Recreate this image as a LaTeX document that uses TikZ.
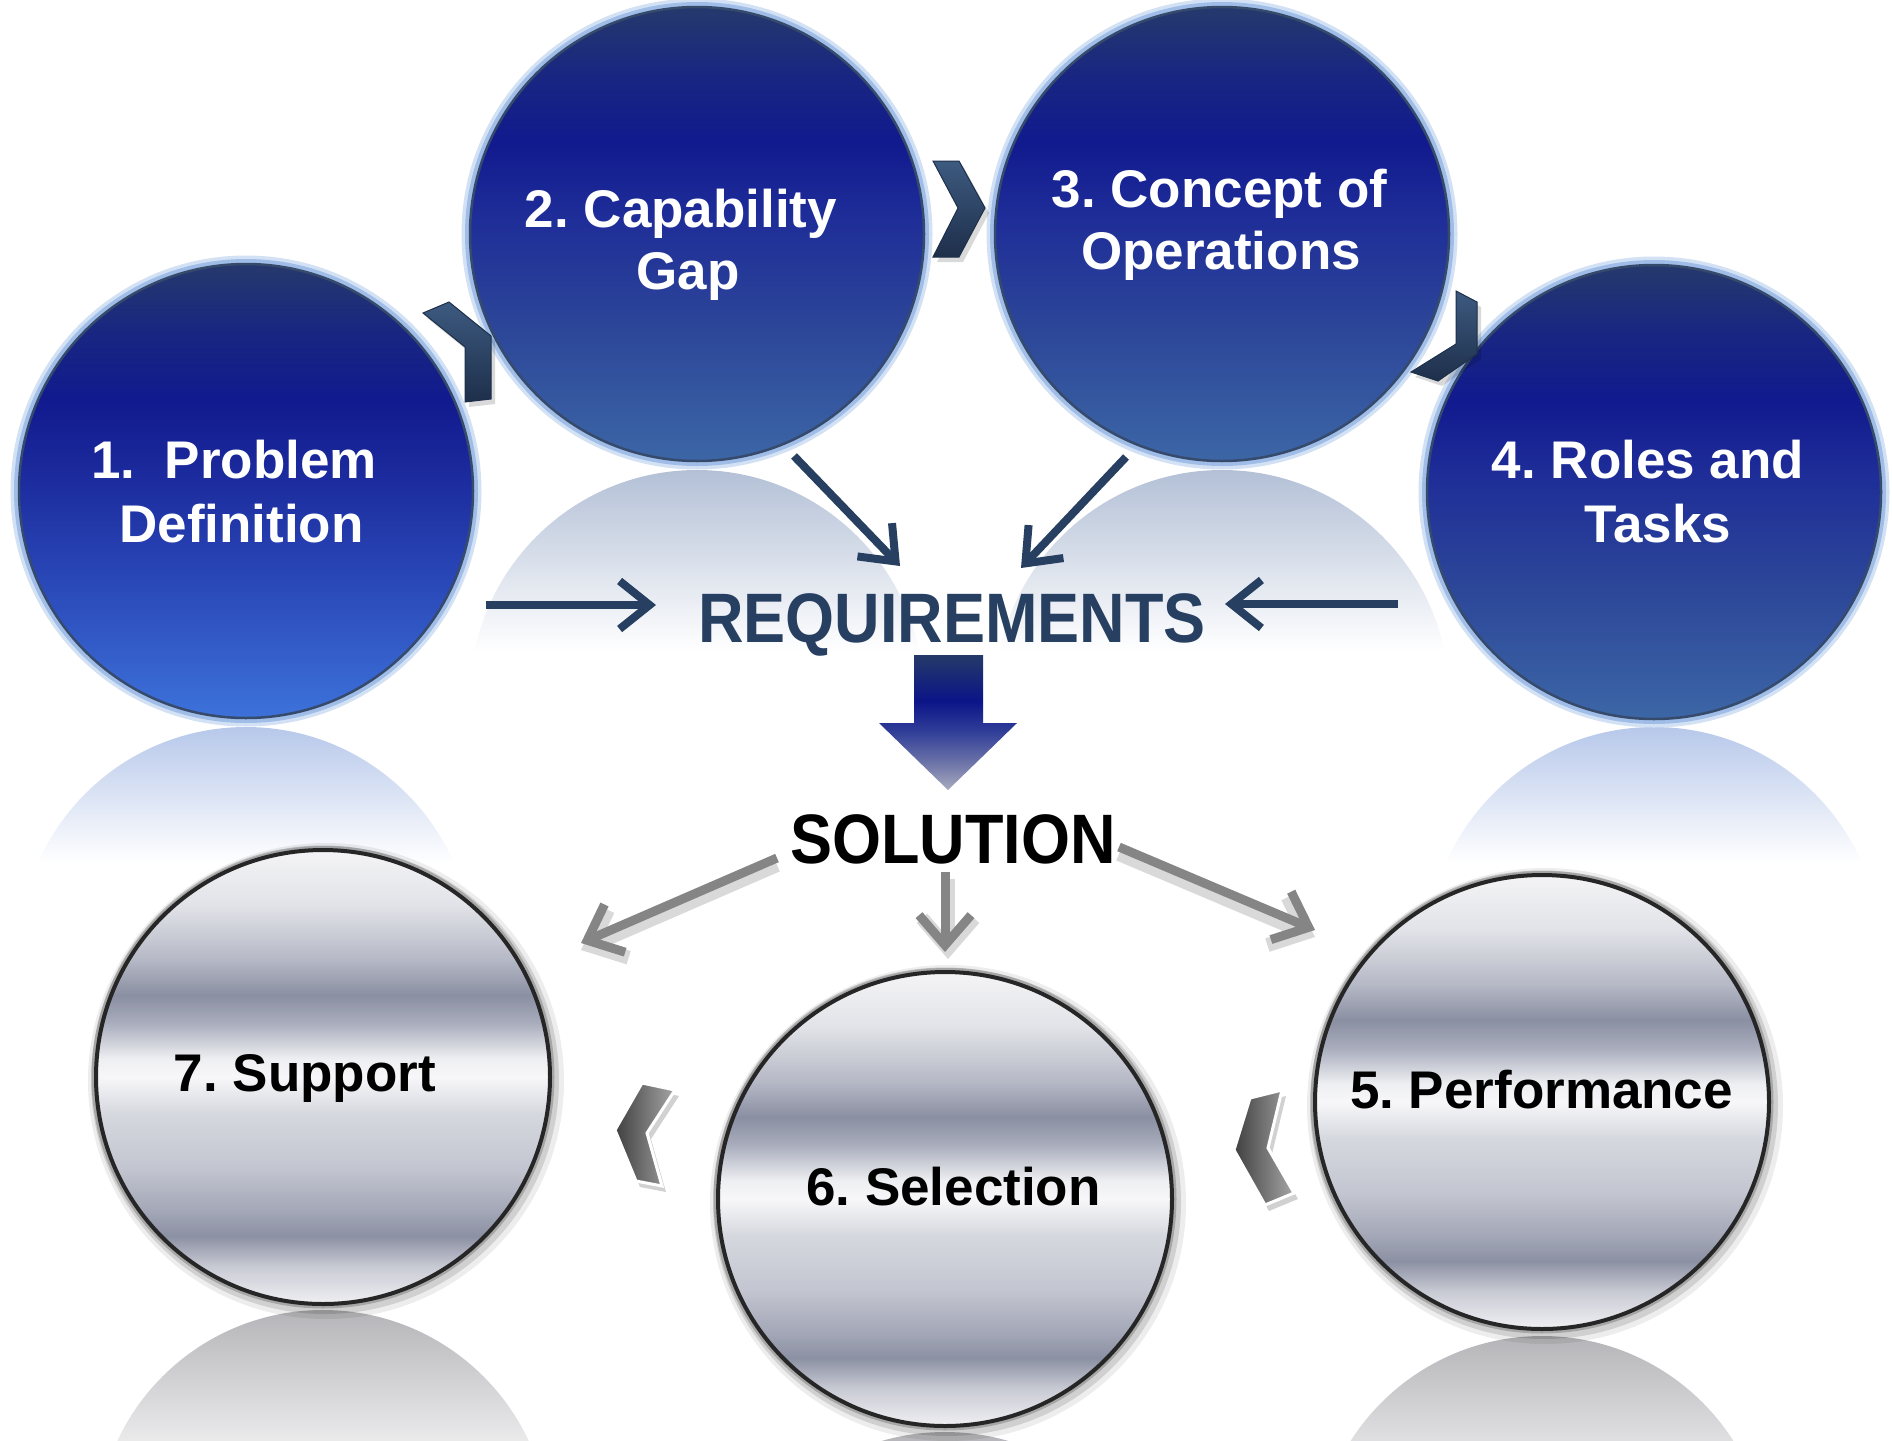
\documentclass[tikz,border=0pt]{standalone}
\usepackage{fontspec}
\setmainfont{Liberation Sans}
\newfontfamily\condfont[FakeStretch=0.9]{Liberation Sans}
\usetikzlibrary{arrows.meta,calc}
\frenchspacing
\definecolor{navytxt}{HTML}{273F61}
\definecolor{chevnavy}{HTML}{2D4465}
\definecolor{chevnavyL}{HTML}{3D5A80}
\definecolor{chevnavyD}{HTML}{1E2F4A}
\definecolor{bA0}{HTML}{26396C}
\definecolor{bA1}{HTML}{1A2780}
\definecolor{bA2}{HTML}{111A8E}
\definecolor{bA3}{HTML}{1B2A9C}
\definecolor{bA4}{HTML}{2A48B8}
\definecolor{bA5}{HTML}{3D72DA}
\definecolor{bB3}{HTML}{1E2D98}
\definecolor{bB4}{HTML}{2C4598}
\definecolor{bB5}{HTML}{3C66A6}
\definecolor{g0}{HTML}{F4F4F6}
\definecolor{g1}{HTML}{E2E3E8}
\definecolor{g2}{HTML}{B6B9C6}
\definecolor{g3}{HTML}{8A8FA2}
\definecolor{g4}{HTML}{A8ACBC}
\definecolor{g5}{HTML}{EEEFF2}
\definecolor{g6}{HTML}{F7F7F9}
\definecolor{g7}{HTML}{D6D8DF}
\definecolor{g8}{HTML}{C3C6D0}
\definecolor{g9}{HTML}{A1A5B5}
\definecolor{g10}{HTML}{8B90A3}
\definecolor{g11}{HTML}{CACCD5}
\definecolor{g12}{HTML}{F0F0F3}
\definecolor{rb}{HTML}{B7C8EA}
\definecolor{rs}{HTML}{B3C0D6}
\definecolor{rg}{HTML}{B5B5B9}
\definecolor{ba0}{HTML}{243A68}
\definecolor{ba1}{HTML}{0C1488}
\definecolor{ba2}{HTML}{2F3D98}
\definecolor{ba3}{HTML}{6D74A8}
\definecolor{ba4}{HTML}{A8ABBF}
\definecolor{glowA}{HTML}{D3E1F5}
\definecolor{glowB}{HTML}{A0BDE8}
\definecolor{rimtop}{HTML}{364A6C}
\definecolor{grayarrow}{HTML}{858585}
\pgfdeclareverticalshading{blueA}{100bp}{color(0bp)=(bA5); color(25bp)=(bA5); color(40bp)=(bA4); color(52bp)=(bA3); color(60bp)=(bA2); color(68bp)=(bA1); color(75bp)=(bA0); color(100bp)=(bA0)}
\pgfdeclareverticalshading{blueB}{100bp}{color(0bp)=(bB5); color(25bp)=(bB5); color(40bp)=(bB4); color(52bp)=(bB3); color(60bp)=(bA2); color(68bp)=(bA1); color(75bp)=(bA0); color(100bp)=(bA0)}
\pgfdeclareverticalshading{metal}{100bp}{color(0bp)=(g12); color(25bp)=(g12); color(29bp)=(g11); color(32.5bp)=(g10); color(35bp)=(g9); color(40bp)=(g8); color(46bp)=(g7); color(50bp)=(g6); color(52bp)=(g5); color(56bp)=(g4); color(59bp)=(g3); color(63bp)=(g2); color(69bp)=(g1); color(75bp)=(g0); color(100bp)=(g0)}
\pgfdeclareverticalshading{reflBlue}{100bp}{color(0bp)=(white); color(60bp)=(white); color(75bp)=(rb); color(100bp)=(rb)}
\pgfdeclareverticalshading{reflSlate}{100bp}{color(0bp)=(white); color(55bp)=(white); color(75bp)=(rs); color(100bp)=(rs)}
\pgfdeclareverticalshading{reflGray}{100bp}{color(0bp)=(white); color(55bp)=(white); color(75bp)=(rg); color(100bp)=(rg)}
\pgfdeclareverticalshading{blockarr}{100bp}{color(0bp)=(ba4); color(25bp)=(ba4); color(35bp)=(ba3); color(47bp)=(ba2); color(58bp)=(ba1); color(75bp)=(ba0); color(100bp)=(ba0)}
\tikzset{
  topcirc/.style={circle, minimum size=454pt, inner sep=0pt, shade, draw=rimtop, line width=2.5pt,
    preaction={draw=glowA, line width=17pt},
    preaction={draw=glowB, line width=10pt}},
  botcirc/.style={circle, minimum size=454pt, inner sep=0pt, shade, shading=metal, draw=black!85, line width=4pt,
    preaction={draw=black, draw opacity=0.07, line width=22pt, transform canvas={shift={(3pt,-4pt)}}},
    preaction={draw=black, draw opacity=0.12, line width=14pt, transform canvas={shift={(2pt,-3pt)}}},
    preaction={draw=black, draw opacity=0.2, line width=9pt}},
  toplab/.style={anchor=base, inner sep=0pt, text=white, font=\fontsize{53}{62}\selectfont\bfseries},
  botlab/.style={anchor=base, inner sep=0pt, text=black, font=\fontsize{53}{62}\selectfont\bfseries},
  bigword/.style={anchor=base, inner sep=0pt, font=\condfont\fontsize{70}{80}\selectfont\bfseries},
  navyarr/.style={draw=navytxt, line width=8pt, -{Straight Barb[length=30pt,width=48pt]}},
  grayarr/.style={draw=grayarrow, line width=9pt, -{Straight Barb[length=30pt,width=52pt]}},
  grayshadow/.style={draw=black, draw opacity=0.15, line width=14pt, -{Straight Barb[length=30pt,width=52pt]}},
  topchev/.style={shade, top color=chevnavyL, bottom color=chevnavyD, draw=chevnavyD, line width=1pt, line join=miter},
  topchevshadow/.style={fill=black, fill opacity=0.15},
  botchev/.style={shade, left color=black!75, right color=black!35, draw=white, line width=3pt, line join=miter},
  botchevshadow/.style={fill=black, fill opacity=0.18}
}
\begin{document}
\begin{tikzpicture}[x=1pt,y=-1pt]
\useasboundingbox (0,0) rectangle (1892,1440);
\fill[white] (0,0) rectangle (1892,1440);

% reflections of top circles
\begin{scope}
  \clip (0,727) rectangle (1892,870);
  \shade[shading=reflBlue] (246,954) circle (227);
  \shade[shading=reflBlue] (1654,954) circle (227);
\end{scope}
\begin{scope}
  \clip (0,470) rectangle (1892,670);
  \shade[shading=reflSlate] (697,697) circle (227);
  \shade[shading=reflSlate] (1222,697) circle (227);
\end{scope}
% reflections of bottom circles
\begin{scope}
  \clip (0,1310) rectangle (1892,1440);
  \shade[shading=reflGray] (323,1537) circle (227);
  \shade[shading=reflGray] (1542,1563) circle (227);
  \shade[shading=reflGray] (945,1659) circle (227);
\end{scope}

% top circles
\node[topcirc, shading=blueA] (c1) at (246,491) {};
\node[topcirc, shading=blueB] (c2) at (697,234) {};
\node[topcirc, shading=blueB] (c3) at (1222,234) {};
\node[topcirc, shading=blueB] (c4) at (1654,492) {};

% top chevrons
\fill[topchevshadow] (427,318) -- (453,307) -- (495,341) -- (495,404) -- (469,407) -- (469,352) -- cycle;
\path[topchev] (423,313) -- (449,302) -- (491,336) -- (491,399) -- (465,402) -- (465,347) -- cycle;
\fill[topchevshadow] (937,166) -- (963,166) -- (989,213) -- (963,262) -- (937,262) -- (962,213) -- cycle;
\path[topchev] (933,161) -- (959,161) -- (985,208) -- (959,257) -- (933,257) -- (958,208) -- cycle;
\fill[topchevshadow] (1460,296) -- (1481,307) -- (1481,359) -- (1442,386) -- (1415,377) -- (1460,349) -- cycle;
\path[topchev] (1456,291) -- (1477,302) -- (1477,354) -- (1438,381) -- (1411,372) -- (1456,344) -- cycle;

% top labels
\node[toplab] (t1a) at (234,478) {1.\ \ Problem};
\node[toplab] (t1b) at (241.5,542) {Definition};
\node[toplab] (t2a) at (681,227) {2. Capability};
\node[toplab] (t2b) at (688,289) {Gap};
\node[toplab] (t3a) at (1219.5,207) {3. Concept of};
\node[toplab] (t3b) at (1221,269) {Operations};
\node[toplab] (t4a) at (1648,478) {4. Roles and};
\node[toplab] (t4b) at (1658,542) {Tasks};

% REQUIREMENTS and SOLUTION
\node[bigword, text=navytxt] (req) at (952,642) {REQUIREMENTS};
\node[bigword, text=black] (sol) at (953,863) {SOLUTION};

% navy arrows
\coordinate (a1s) at (486,605); \coordinate (a1e) at (656,605);
\coordinate (a2s) at (794,456); \coordinate (a2e) at (900,566);
\coordinate (a3s) at (1126,457); \coordinate (a3e) at (1021,568);
\coordinate (a4s) at (1398,604); \coordinate (a4e) at (1225,604);
\draw[navyarr] (a1s) -- (a1e);
\draw[navyarr] (a2s) -- (a2e);
\draw[navyarr] (a3s) -- (a3e);
\draw[navyarr] (a4s) -- (a4e);

% block arrow from REQUIREMENTS to SOLUTION
\shade[shading=blockarr] (914,655) -- (983,655) -- (983,723) -- (1017,723) -- (948,790) -- (879,723) -- (914,723) -- cycle;

% gray arrows from SOLUTION
\coordinate (g1s) at (777,858); \coordinate (g1e) at (581,943);
\coordinate (g2s) at (945,872); \coordinate (g2e) at (945,952);
\coordinate (g3s) at (1119,847); \coordinate (g3e) at (1315,930);
\draw[grayshadow] ([yshift=-7pt]g1s) -- ([yshift=-7pt]g1e);
\draw[grayshadow] ([yshift=-7pt,xshift=3pt]g2s) -- ([yshift=-7pt,xshift=3pt]g2e);
\draw[grayshadow] ([yshift=-7pt]g3s) -- ([yshift=-7pt]g3e);
\draw[grayarr] (g1s) -- (g1e);
\draw[grayarr] (g2s) -- (g2e);
\draw[grayarr] (g3s) -- (g3e);

% bottom circles
\node[botcirc] (c7) at (323,1077) {};
\node[botcirc] (c6) at (945,1199) {};
\node[botcirc] (c5) at (1542,1102) {};

% bottom chevrons
\fill[botchevshadow] (646,1089) -- (679,1096) -- (651,1139) -- (666,1192) -- (640,1187) -- (619,1136) -- cycle;
\path[botchev] (642,1083) -- (675,1090) -- (647,1133) -- (662,1186) -- (636,1181) -- (615,1130) -- cycle;
\fill[botchevshadow] (1254,1104) -- (1286,1096) -- (1272,1154) -- (1298,1199) -- (1269,1211) -- (1238,1156) -- cycle;
\path[botchev] (1250,1098) -- (1282,1090) -- (1268,1148) -- (1294,1193) -- (1265,1205) -- (1234,1150) -- cycle;

% bottom labels
\node[botlab] (t7) at (305,1091) {7. Support};
\node[botlab] (t6) at (953.5,1205) {6. Selection};
\node[botlab] (t5) at (1541.5,1108) {5. Performance};
\end{tikzpicture}
\end{document}
